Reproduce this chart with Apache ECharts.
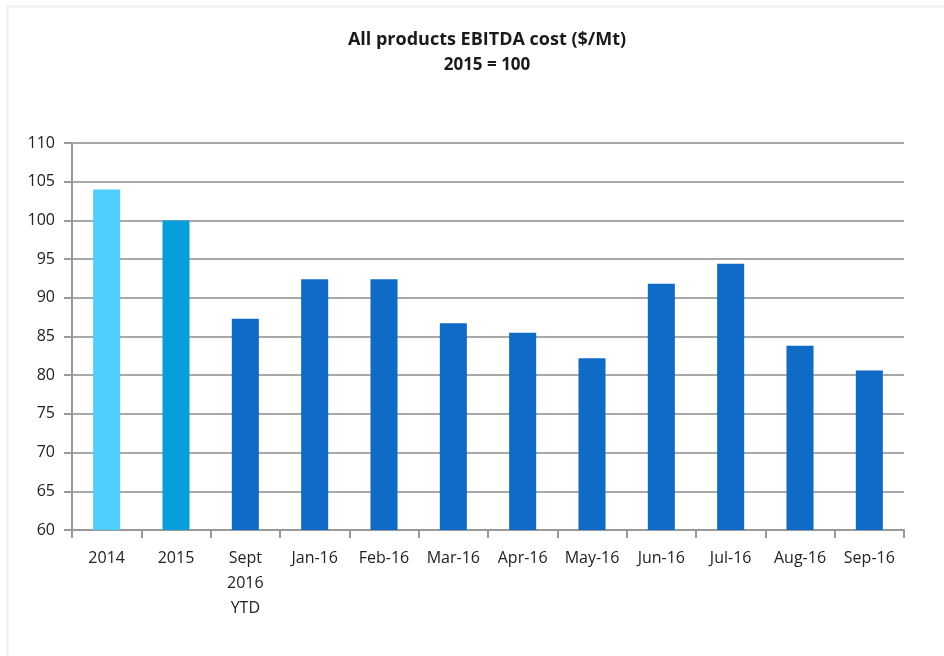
<!DOCTYPE html>
<html>
<head>
<meta charset="utf-8">
<script src="https://cdn.jsdelivr.net/npm/echarts@6/dist/echarts.min.js"></script>
<style>html,body{margin:0;padding:0;background:#fff}#c{width:944px;height:656px}</style>
</head>
<body>
<div id="c"></div>
<script>
const categories = ['2014', '2015', 'Sept\n2016\nYTD', 'Jan-16', 'Feb-16', 'Mar-16', 'Apr-16', 'May-16', 'Jun-16', 'Jul-16', 'Aug-16', 'Sep-16'];
const values = [104, 100, 87.3, 92.4, 92.4, 86.7, 85.5, 82.2, 91.8, 94.4, 83.8, 80.6];
const barColors = ['#4FCDFB', '#079FD9', '#0F6BC6', '#0F6BC6', '#0F6BC6', '#0F6BC6', '#0F6BC6', '#0F6BC6', '#0F6BC6', '#0F6BC6', '#0F6BC6', '#0F6BC6'];
const yTicks = [60, 65, 70, 75, 80, 85, 90, 95, 100, 105, 110];

const chart = echarts.init(document.getElementById('c'), null, {renderer: 'canvas'});
const font = '"Open Sans", "DejaVu Sans", sans-serif';
chart.setOption({
  animation: false,
  backgroundColor: '#fff',
  graphic: [{
    type: 'rect', shape: {x: 7.5, y: 6.5, width: 940, height: 660},
    style: {fill: 'none', stroke: '#eeeeee', lineWidth: 2}, silent: true
  }],
  title: {
    text: 'All products EBITDA cost ($/Mt)',
    subtext: '2015 = 100',
    left: 482, textAlign: 'center', top: 26,
    itemGap: 8,
    textStyle: {fontFamily: font, fontSize: 18, fontWeight: 'bold', color: '#1a1a1a'},
    subtextStyle: {fontFamily: font, fontSize: 17, fontWeight: 'bold', color: '#1a1a1a'}
  },
  grid: {left: 72, right: 40, top: 143, bottom: 126, containLabel: false},
  xAxis: {
    type: 'category',
    data: categories,
    axisLine: {lineStyle: {color: '#9a9a9a', width: 2}},
    axisTick: {show: true, alignWithLabel: false, length: 8, lineStyle: {color: '#9a9a9a', width: 2}},
    axisLabel: {interval: 0, fontFamily: font, fontSize: 16, color: '#222', margin: 16, lineHeight: 25}
  },
  yAxis: {
    type: 'value', min: 60, max: 110, interval: 5,
    axisLine: {show: true, lineStyle: {color: '#9a9a9a', width: 2}},
    axisTick: {show: true, length: 8, lineStyle: {color: '#9a9a9a', width: 2}},
    splitLine: {lineStyle: {color: '#a8a8a8', width: 2}},
    axisLabel: {fontFamily: font, fontSize: 16, color: '#222', margin: 17}
  },
  series: [{
    type: 'bar',
    data: values.map((v, i) => ({value: v, itemStyle: {color: barColors[i]}})),
    barWidth: '39%'
  }]
});
</script>
</body>
</html>
